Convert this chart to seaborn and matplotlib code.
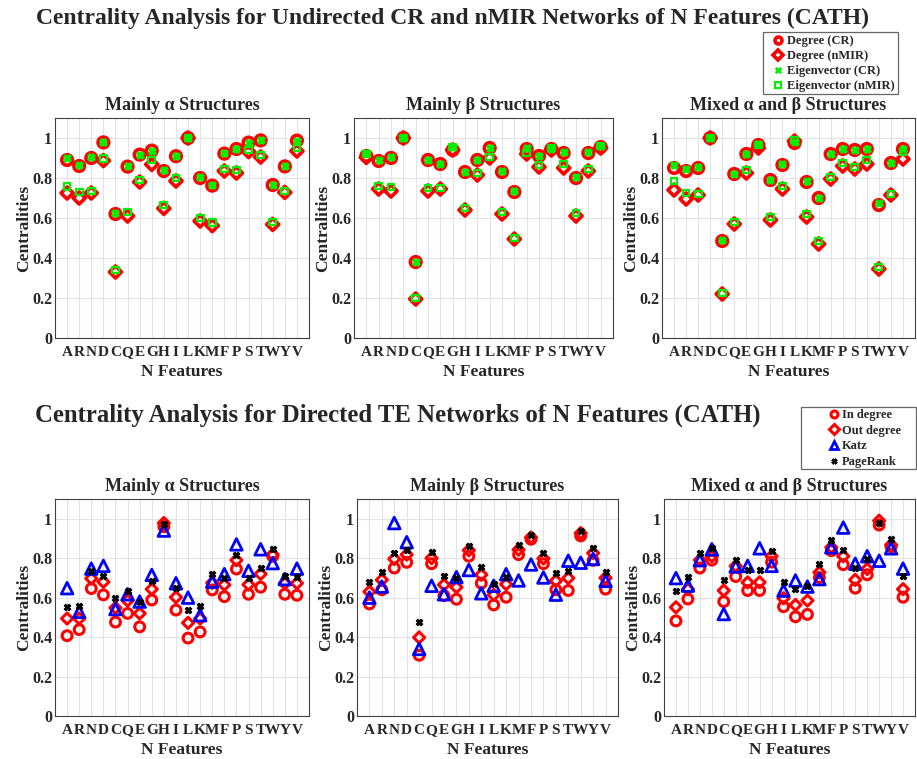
import matplotlib
matplotlib.use("Agg")
import matplotlib.pyplot as plt
from matplotlib.lines import Line2D
from matplotlib.patches import Rectangle
import pandas as pd
import seaborn as sns

# ---------------------------------------------------------------- data
residues = list("ARNDCQEGHILKMFPSTWYV")
panel_titles = ["Mainly α Structures", "Mainly β Structures", "Mixed α and β Structures"]

# Undirected CR / nMIR networks
alpha_deg_cr = [.89, .86, .90, .978, .62, .857, .917, .937, .835, .909, 1.0, .80, .762, .922, .945, .977, .988, .765, .858, .987]
alpha_deg_nmir = [.725, .70, .725, .887, .33, .61, .78, .868, .648, .785, 1.0, .585, .562, .835, .825, .932, .905, .568, .728, .935]
alpha_eig_cr = [.90, .865, .905, .98, .625, .86, .915, .935, .84, .91, 1.0, .805, .765, .925, .945, .975, .99, .765, .86, .985]
alpha_eig_nmir = [.757, .73, .735, .898, .34, .63, .79, .89, .665, .80, 1.0, .60, .578, .845, .84, .94, .915, .58, .735, .95]

beta_deg_cr = [.91, .885, .90, 1.0, .38, .89, .87, .94, .83, .89, .95, .83, .73, .945, .91, .945, .925, .80, .925, .955]
beta_deg_nmir = [.903, .745, .735, 1.0, .195, .735, .745, .94, .64, .815, .90, .62, .495, .92, .855, .94, .85, .61, .835, .95]
beta_eig_cr = [.925, .89, .905, 1.0, .38, .89, .87, .955, .83, .89, .95, .835, .735, .95, .91, .945, .93, .805, .93, .96]
beta_eig_nmir = [.92, .76, .755, 1.0, .20, .75, .75, .955, .65, .825, .905, .63, .50, .925, .865, .95, .87, .625, .845, .96]

mixed_deg_cr = [.85, .835, .85, 1.0, .485, .82, .92, .965, .79, .865, .975, .78, .70, .92, .945, .94, .945, .665, .875, .945]
mixed_deg_nmir = [.74, .695, .715, 1.0, .22, .57, .825, .95, .59, .745, .985, .605, .47, .795, .86, .845, .87, .345, .715, .895]
mixed_eig_cr = [.865, .845, .855, 1.0, .49, .82, .92, .97, .79, .87, .98, .785, .70, .92, .945, .94, .945, .675, .875, .945]
mixed_eig_nmir = [.785, .725, .72, 1.0, .225, .58, .84, .965, .605, .76, .99, .62, .485, .805, .875, .855, .89, .355, .72, .93]

# Directed TE networks
alpha_in = [.407, .438, .646, .614, .476, .52, .452, .588, .96, .537, .395, .426, .639, .605, .745, .617, .653, .81, .617, .612]
alpha_out = [.494, .494, .697, .68, .548, .585, .52, .643, .978, .602, .472, .494, .675, .665, .79, .666, .72, .818, .673, .673]
alpha_katz = [.648, .528, .747, .761, .542, .617, .58, .715, .94, .673, .60, .511, .681, .719, .87, .736, .845, .775, .694, .747]
alpha_pr = [.554, .559, .736, .712, .598, .636, .58, .685, .973, .648, .537, .557, .719, .702, .815, .702, .75, .845, .71, .707]

beta_in = [.568, .64, .75, .779, .308, .772, .61, .592, .81, .673, .563, .602, .818, .896, .772, .64, .636, .913, .789, .643]
beta_out = [.63, .69, .796, .818, .398, .80, .665, .653, .84, .716, .614, .668, .843, .905, .798, .685, .699, .927, .826, .70]
beta_katz = [.60, .656, .978, .881, .34, .66, .617, .704, .74, .622, .66, .719, .687, .768, .702, .615, .787, .777, .796, .685]
beta_pr = [.678, .73, .825, .842, .479, .83, .71, .702, .86, .753, .671, .707, .869, .916, .825, .727, .736, .939, .852, .729]

mixed_in = [.482, .593, .75, .79, .58, .707, .636, .636, .78, .554, .503, .515, .702, .838, .767, .648, .716, .968, .858, .602]
mixed_out = [.551, .643, .79, .81, .636, .76, .677, .678, .81, .597, .563, .585, .728, .855, .81, .69, .745, .99, .867, .643]
mixed_katz = [.699, .661, .79, .845, .517, .758, .761, .85, .761, .636, .687, .656, .694, .855, .955, .772, .81, .787, .85, .747]
mixed_pr = [.636, .704, .825, .85, .69, .79, .741, .741, .837, .677, .643, .66, .772, .893, .843, .75, .798, .98, .896, .712]

undirected = [
    {"Degree (CR)": alpha_deg_cr, "Degree (nMIR)": alpha_deg_nmir,
     "Eigenvector (CR)": alpha_eig_cr, "Eigenvector (nMIR)": alpha_eig_nmir},
    {"Degree (CR)": beta_deg_cr, "Degree (nMIR)": beta_deg_nmir,
     "Eigenvector (CR)": beta_eig_cr, "Eigenvector (nMIR)": beta_eig_nmir},
    {"Degree (CR)": mixed_deg_cr, "Degree (nMIR)": mixed_deg_nmir,
     "Eigenvector (CR)": mixed_eig_cr, "Eigenvector (nMIR)": mixed_eig_nmir},
]
directed = [
    {"In degree": alpha_in, "Out degree": alpha_out, "Katz": alpha_katz, "PageRank": alpha_pr},
    {"In degree": beta_in, "Out degree": beta_out, "Katz": beta_katz, "PageRank": beta_pr},
    {"In degree": mixed_in, "Out degree": mixed_out, "Katz": mixed_katz, "PageRank": mixed_pr},
]

# ---------------------------------------------------------------- styles
RED, GREEN, BLUE = "#ff0000", "#00ee00", "#0000ff"
undirected_style = {
    "Degree (CR)": dict(marker="o", s=58, facecolor="none", edgecolor=RED, linewidth=2.6),
    "Degree (nMIR)": dict(marker="D", s=38, facecolor="none", edgecolor=RED, linewidth=2.6),
    "Eigenvector (CR)": dict(marker="X", s=28, color=GREEN, edgecolor=GREEN, linewidth=1.0),
    "Eigenvector (nMIR)": dict(marker="s", s=24, facecolor="none", edgecolor=GREEN, linewidth=1.6),
}
directed_style = {
    "In degree": dict(marker="o", s=50, facecolor="none", edgecolor=RED, linewidth=2.2),
    "Out degree": dict(marker="D", s=32, facecolor="none", edgecolor=RED, linewidth=2.2),
    "Katz": dict(marker="^", s=70, facecolor="none", edgecolor=BLUE, linewidth=2.0),
    "PageRank": dict(marker="X", s=22, color="black", edgecolor="black", linewidth=0.8),
}

sns.set_style("whitegrid")
plt.rcParams["font.family"] = ["Liberation Serif", "DejaVu Serif"]
plt.rcParams["font.weight"] = "bold"
plt.rcParams["axes.titleweight"] = "bold"
plt.rcParams["axes.labelweight"] = "bold"

W, H = 917, 759
fig = plt.figure(figsize=(W / 100, H / 100), dpi=100)


def px_axes(x, y, w, h):
    return fig.add_axes([x / W, 1 - (y + h) / H, w / W, h / H])


def style_axes(ax, title):
    ax.set_xlim(0, 21)
    ax.set_ylim(0, 1.1)
    ax.set_xticks(range(1, 21))
    ax.set_xticklabels(residues)
    ax.set_yticks([0, 0.2, 0.4, 0.6, 0.8, 1.0])
    ax.set_yticklabels(["0", "0.2", "0.4", "0.6", "0.8", "1"])
    ax.grid(True, color="#e3e3e3", linewidth=0.8)
    for sp in ax.spines.values():
        sp.set_color("#404040")
        sp.set_linewidth(0.8)
    ax.tick_params(axis="x", labelsize=11, pad=6, length=0)
    ax.tick_params(axis="y", labelsize=11.5, pad=2, length=0)
    for lab in ax.get_xticklabels() + ax.get_yticklabels():
        lab.set_fontweight("bold")
    ax.set_title(title, fontsize=13, fontweight="bold", pad=6)
    ax.set_xlabel("N Features", fontsize=12.5, fontweight="bold", labelpad=3)
    ax.set_ylabel("Centralities", fontsize=12.5, fontweight="bold", labelpad=0)


def draw_panel(ax, series, styles):
    for name, vals in series.items():
        df = pd.DataFrame({"pos": range(1, 21), "value": vals})
        sns.scatterplot(data=df, x="pos", y="value", ax=ax, legend=False,
                        zorder=3, **styles[name])


top_boxes = [(55, 118, 254, 220), (354, 118, 259, 220), (662, 118, 253, 220)]
bot_boxes = [(55, 499, 254, 217), (357, 499, 261, 217), (664, 499, 251, 217)]

for box, series, title in zip(top_boxes, undirected, panel_titles):
    ax = px_axes(*box)
    draw_panel(ax, series, undirected_style)
    style_axes(ax, title)

for box, series, title in zip(bot_boxes, directed, panel_titles):
    ax = px_axes(*box)
    draw_panel(ax, series, directed_style)
    style_axes(ax, title)

fig.text(452 / W, 1 - 18 / H, "Centrality Analysis for Undirected CR and nMIR Networks of N Features (CATH)",
         ha="center", va="center", fontsize=17, fontweight="bold")
fig.text(398 / W, 1 - 415 / H, "Centrality Analysis for Directed TE Networks of N Features (CATH)",
         ha="center", va="center", fontsize=17.8, fontweight="bold")


def legend_handles(styles, sizes):
    handles = []
    for name, st in styles.items():
        filled = st.get("facecolor") != "none"
        handles.append(Line2D([], [], linestyle="none", marker=st["marker"],
                              markersize=sizes[name],
                              markerfacecolor=st["edgecolor"] if filled else "none",
                              markeredgecolor=st["edgecolor"],
                              markeredgewidth=st["linewidth"] if not filled else 0.5,
                              label=name))
    return handles


def boxed_legend(handles, left, top, frame, textpad, spacing):
    # frame drawn separately so the markers can sit well inside a wide box
    x0, y0, x1, y1 = frame
    fig.patches.append(Rectangle((x0 / W, 1 - y1 / H), (x1 - x0) / W, (y1 - y0) / H,
                                 transform=fig.transFigure, facecolor="white",
                                 edgecolor="#666666", linewidth=0.9, zorder=5))
    leg = fig.legend(handles=handles, loc="upper left", bbox_to_anchor=(left / W, 1 - top / H),
                     frameon=False, borderpad=0, borderaxespad=0, handlelength=0.8,
                     handletextpad=textpad, labelspacing=spacing,
                     prop={"family": ["Liberation Serif"], "weight": "bold", "size": 9})
    leg.set_zorder(6)
    return leg


boxed_legend(legend_handles(undirected_style,
             {"Degree (CR)": 5, "Degree (nMIR)": 5, "Eigenvector (CR)": 4.5, "Eigenvector (nMIR)": 4.5}),
             left=773, top=35, frame=(763, 32, 898, 94), textpad=0.35, spacing=0.25)
boxed_legend(legend_handles(directed_style,
             {"In degree": 5, "Out degree": 5, "Katz": 6, "PageRank": 4}),
             left=829, top=409, frame=(801, 407, 916, 469), textpad=0.25, spacing=0.3)

fig.savefig("out.png", dpi=100)
